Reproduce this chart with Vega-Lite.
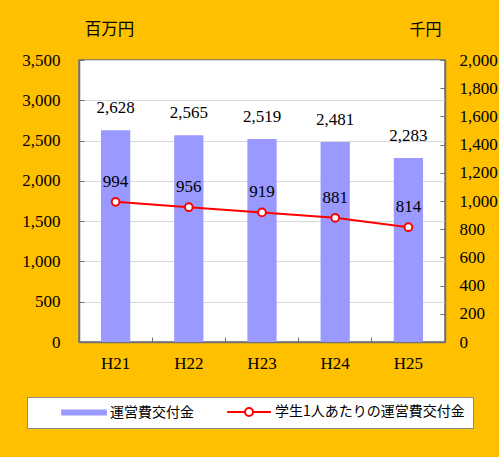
{
  "$schema": "https://vega.github.io/schema/vega-lite/v6.json",
  "width": 366,
  "height": 282,
  "autosize": {"type": "none"},
  "padding": {"left": 79, "top": 60, "right": 54, "bottom": 115},
  "background": "#FFC000",
  "config": {
    "font": "Liberation Serif, Noto Sans CJK JP",
    "view": {"stroke": "#707070", "strokeWidth": 1.5, "fill": "white"},
    "axis": {"labelFont": "Liberation Serif, Noto Sans CJK JP", "labelFontSize": 17, "labelColor": "#000", "domainColor": "#707070", "domainWidth": 1.5, "tickColor": "#707070", "labelOverlap": false},
    "axisY": {"labelOverlap": false}
  },
  "data": {
    "values": [
      {"year": "H21", "total": 2628, "per": 994},
      {"year": "H22", "total": 2565, "per": 956},
      {"year": "H23", "total": 2519, "per": 919},
      {"year": "H24", "total": 2481, "per": 881},
      {"year": "H25", "total": 2283, "per": 814}
    ]
  },
  "encoding": {
    "x": {
      "field": "year", "type": "nominal", "sort": null,
      "scale": {"paddingInner": 0, "paddingOuter": 0},
      "axis": {"title": null, "labelAngle": 0, "labelPadding": 18, "bandPosition": 0, "tickSize": -5, "ticks": true, "grid": false}
    }
  },
  "layer": [
    {
      "encoding": {
        "y": {
          "field": "total", "type": "quantitative",
          "scale": {"domain": [0, 3500], "nice": false},
          "axis": {"values": [0, 500, 1000, 1500, 2000, 2500, 3000, 3500], "format": ",.0f", "labelOverlap": false, "grid": true, "gridColor": "#D9D9D9", "tickSize": -5, "labelPadding": 24, "title": "百万円", "titleAngle": 0, "titleX": 30, "titleY": -31, "titleAlign": "center", "titleBaseline": "middle", "titleFont": "Noto Sans CJK JP", "titleFontSize": 16.5, "titleFontWeight": "normal", "titleColor": "#000"}
        }
      },
      "layer": [
        {
          "mark": {"type": "bar", "width": {"band": 0.4}},
          "encoding": {
            "color": {
              "datum": "運営費交付金", "type": "nominal",
              "scale": {"domain": ["運営費交付金", "学生1人あたりの運営費交付金"], "range": ["#9999FF", "#FFFFFF"]},
              "legend": {
                "title": null, "orient": "none", "legendX": -52, "legendY": 337, "direction": "horizontal", "columns": 2,
                "fillColor": "white", "strokeColor": "#8a8a8a", "padding": 8, "columnPadding": 6,
                "labelFont": "Noto Sans CJK JP", "labelFontSize": 14, "labelColor": "#000", "labelLimit": 400, "labelOffset": 19,
                "labelExpr": "datum.value === '運営費交付金' ? datum.label : datum.label + '\u3000\u3000'",
                "symbolSize": 100, "symbolType": "square", "symbolOffset": 42, "symbolStrokeWidth": 2,
                "encode": {
                  "symbols": {"update": {
                    "shape": {"signal": "datum.value === '運営費交付金' ? 'M-4.37,-0.4H4.37V0.4H-4.37Z' : 'M-4.37,0H-0.8M0.8,0H4.37M-0.8,0A0.8,0.8 0 1,0 0.8,0A0.8,0.8 0 1,0 -0.8,0Z'"},
                    "stroke": {"signal": "datum.value === '運営費交付金' ? '#9999FF' : '#FF0000'"},
                    "strokeWidth": {"value": 2},
                    "opacity": {"value": 1}
                  }}
                }
              }
            }
          }
        },
        {
          "mark": {"type": "text", "baseline": "bottom", "dy": -13, "fontSize": 17, "font": "Liberation Serif"},
          "encoding": {
            "text": {"field": "total", "type": "quantitative", "format": ","}
          }
        }
      ]
    },
    {
      "encoding": {
        "y": {
          "field": "per", "type": "quantitative",
          "scale": {"domain": [0, 2000], "nice": false},
          "axis": {"orient": "right", "values": [0, 200, 400, 600, 800, 1000, 1200, 1400, 1600, 1800, 2000], "format": ",.0f", "labelOverlap": false, "grid": false, "tickSize": -5, "labelPadding": 19, "title": "千円", "titleAngle": 0, "titleX": -20, "titleY": -31, "titleAlign": "center", "titleBaseline": "middle", "titleFont": "Noto Sans CJK JP", "titleFontSize": 16, "titleFontWeight": "normal", "titleColor": "#000"}
        }
      },
      "layer": [
        {
          "mark": {"type": "line", "color": "#FF0000", "strokeWidth": 2}
        },
        {
          "mark": {"type": "point", "shape": "circle", "filled": true, "fill": "white", "stroke": "#FF0000", "strokeWidth": 2, "size": 60, "opacity": 1}
        },
        {
          "mark": {"type": "text", "baseline": "bottom", "dy": -11, "fontSize": 17, "font": "Liberation Serif"},
          "encoding": {
            "text": {"field": "per", "type": "quantitative"}
          }
        }
      ]
    }
  ],
  "resolve": {"scale": {"y": "independent"}, "axis": {"y": "independent"}}
}
